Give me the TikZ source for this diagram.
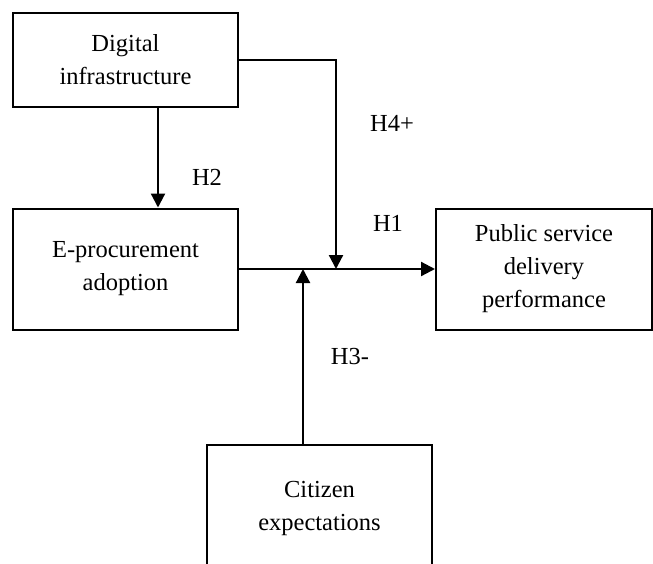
\documentclass[tikz,border=0pt]{standalone}
\usepackage{fontspec}
\setmainfont{Liberation Serif}
\usepackage{tikz}
\usetikzlibrary{calc,positioning,arrows.meta}
\usepackage{xcolor}

\begin{document}
\begin{tikzpicture}[x=1pt, y=-1pt, font=\fontsize{24.5}{33}\selectfont,
    box/.style={draw, line width=2pt, align=center, inner sep=0pt},
    arr/.style={line width=2.2pt, -{Triangle[length=14pt, width=14pt]}},
    hyp/.style={inner sep=0pt}]
  \path[use as bounding box, clip] (0,0) rectangle (653,563);

  % Constructs
  \node[box, minimum width=225pt, minimum height=94pt] (dig) at (125.5, 60) {Digital\\infrastructure};
  \node[box, minimum width=225pt, minimum height=121pt] (epro) at (125.5, 269) {E-procurement\\adoption};
  \node[box, minimum width=216pt, minimum height=121pt] (pub) at (544, 269) {Public service\\delivery\\performance};
  \node[box, minimum width=225pt, minimum height=126pt] (cit) at (319.5, 508) {Citizen\\expectations};

  % Junctions on the main path
  \coordinate (m3) at (303, 269);
  \coordinate (m4) at (336, 269);

  % Paths
  \draw[arr] ([xshift=32.5pt]dig.south) -- ([xshift=32.5pt]epro.north);
  \draw[arr] (epro.east) -- (pub.west);
  \draw[arr] (dig.east) -| (m4);
  \draw[arr] (m3 |- cit.north) -- (m3);

  % Hypotheses
  \node[hyp] (h2) at (207, 177) {H2};
  \node[hyp] (h4) at (392, 123) {H4+};
  \node[hyp] (h1) at (388, 223) {H1};
  \node[hyp] (h3) at (350, 357) {H3-};
\end{tikzpicture}
\end{document}
